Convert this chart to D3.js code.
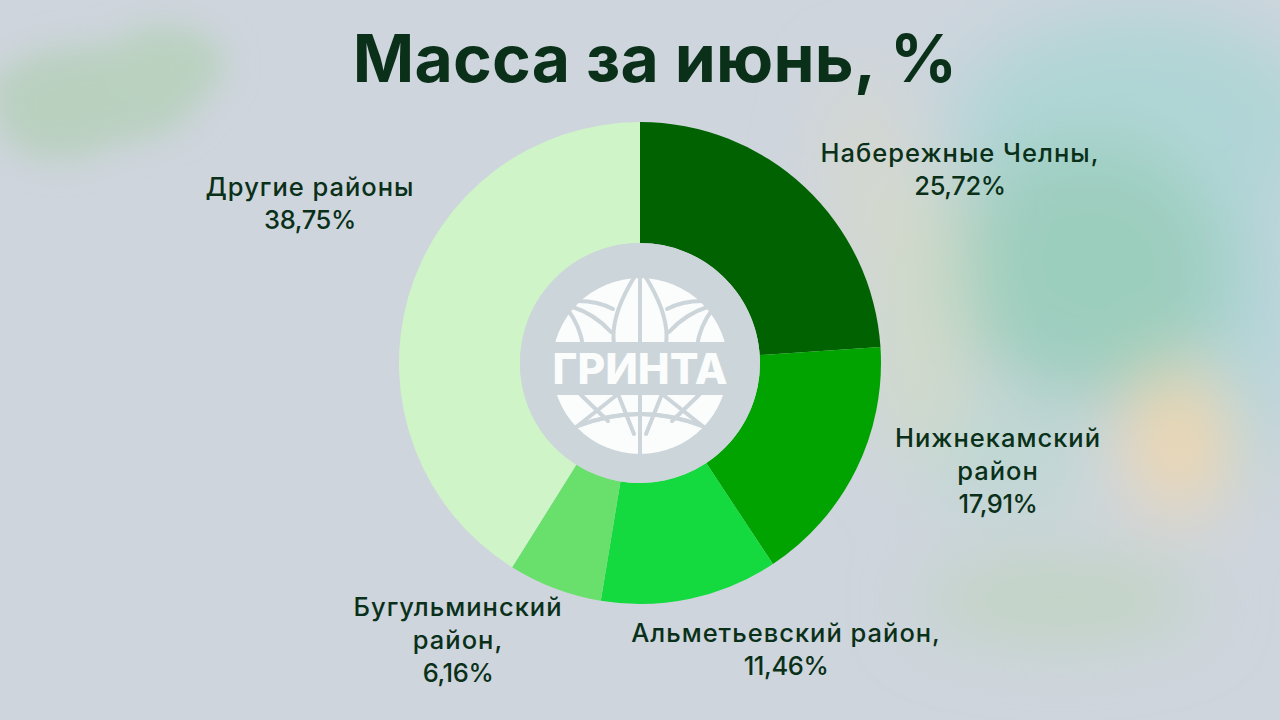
<!DOCTYPE html>
<html><head><meta charset="utf-8">
<script src="https://cdn.jsdelivr.net/npm/d3@7/dist/d3.min.js"></script>
<style>html,body{margin:0;padding:0;background:#ced5dc}svg{display:block}</style>
</head><body><svg id="c" width="1280" height="720"></svg>
<script>
const categories=[["Набережные Челны,"],["Нижнекамский","район"],["Альметьевский район,"],["Бугульминский","район,"],["Другие районы"]];
const printedValues=["25,72%","17,91%","11,46%","6,16%","38,75%"];
// Slice sizes: the reference's slices are not drawn in proportion to its printed percentages.
const sliceShares=[23.95,16.75,11.9,6.3,41.1];
const colors=["#006200","#00a300","#14d93f","#69e06c","#cff4c8"];
const labelPos=[[960,153],[998,438],[786,633],[458,607],[310,187]];
const softBlobs=[[1140,130,190,120,"#b0d5d6",1],[1230,320,70,170,"#b4d5da",1],[1090,270,140,130,"#9ccebe",1],
 [920,320,50,150,"#d0dac8",.9],[865,170,35,100,"#d8d8c8",.7],[1010,460,80,50,"#bbd8d2",.9],
 [1180,440,50,75,"#f0d7ae",1],[1060,600,140,38,"#bfd3bf",1]];
const leftBlobs=[[95,95,105,50,"#b9d0bf",1],[165,65,60,40,"#bad1c0",1],[60,125,60,35,"#b9d0bf",1]];
const svg=d3.select("#c");
const defs=svg.append("defs");
function blur(id,s){defs.append("filter").attr("id",id).attr("filterUnits","userSpaceOnUse").attr("x",-300).attr("y",-300).attr("width",1880).attr("height",1320).append("feGaussianBlur").attr("stdDeviation",s);}
blur("b",36);blur("l",16);
svg.append("rect").attr("width",1280).attr("height",720).attr("fill","#ced5dd");
[["b",softBlobs],["l",leftBlobs]].forEach(([f,data])=>{
 svg.append("g").attr("filter",`url(#${f})`).selectAll("ellipse").data(data).join("ellipse")
 .attr("cx",d=>d[0]).attr("cy",d=>d[1]).attr("rx",d=>d[2]).attr("ry",d=>d[3]).attr("fill",d=>d[4]).attr("opacity",d=>d[5]);
});
const ff="Inter, 'Noto Sans', sans-serif";
const dark="#0a3019";
svg.append("text").attr("x",655).attr("y",82).attr("text-anchor","middle").attr("font-family",ff).attr("font-weight",700).attr("font-size",66).attr("letter-spacing",.2).attr("fill",dark).text("Масса за июнь, %");
const pie=d3.pie().sort(null)(sliceShares);
const arc=d3.arc().innerRadius(120).outerRadius(241);
const g=svg.append("g").attr("transform","translate(640,363)");
g.selectAll("path").data(pie).join("path").attr("d",arc).attr("fill",(d,i)=>colors[i]);
const t=svg.append("g").attr("font-family",ff).attr("font-size",25.5).attr("font-weight",500).attr("fill",dark).attr("text-anchor","middle");
categories.forEach((c,i)=>{
  const lines=[...c,printedValues[i]];
  lines.forEach((l,j)=>t.append("text").attr("x",labelPos[i][0]).attr("y",labelPos[i][1]+j*33+9).attr("letter-spacing",j===lines.length-1?-.4:1).text(l));
});
// logo
const bg="#ccd5d9", white="#fbfcfc", R=88;
svg.append("circle").attr("cx",640).attr("cy",363).attr("r",120).attr("fill",bg);
const logo=svg.append("g").attr("transform","translate(640,366)");
defs.append("clipPath").attr("id","globe").append("path").attr("d",`M${-R},-24H${R}V${-R-1}H${-R}Z M${-R},29H${R}V${R+1}H${-R}Z`);
const lg=logo.append("g").attr("clip-path","url(#globe)");
lg.append("circle").attr("r",R).attr("fill",white);
const ln=lg.append("g").attr("fill","none").attr("stroke",bg).attr("stroke-width",4).attr("stroke-linecap","round");
ln.append("path").attr("d","M0,-90V90");
const half=[
 "M-5,-90Q-30,-50,-26,-22",
 "M-62,-65Q-42,-65,-27,-57",
 "M-70,-60Q-45,-52,-29,-34",
 "M-72,-56Q-60,-40,-57,-20",
 "M-62,60Q0,36,62,60",
 "M-60,28L-32,55",
 "M-22,28L-65,62",
 "M-22,28L-6,68"
];
[1,-1].forEach(s=>{
  const m=ln.append("g").attr("transform",`scale(${s},1)`);
  half.forEach(d=>m.append("path").attr("d",d));
});
logo.append("text").attr("x",0).attr("y",18).attr("text-anchor","middle").attr("font-family",ff).attr("font-weight",800).attr("font-size",43).attr("textLength",175).attr("lengthAdjust","spacingAndGlyphs").attr("fill",white).text("ГРИНТА");
</script></body></html>
